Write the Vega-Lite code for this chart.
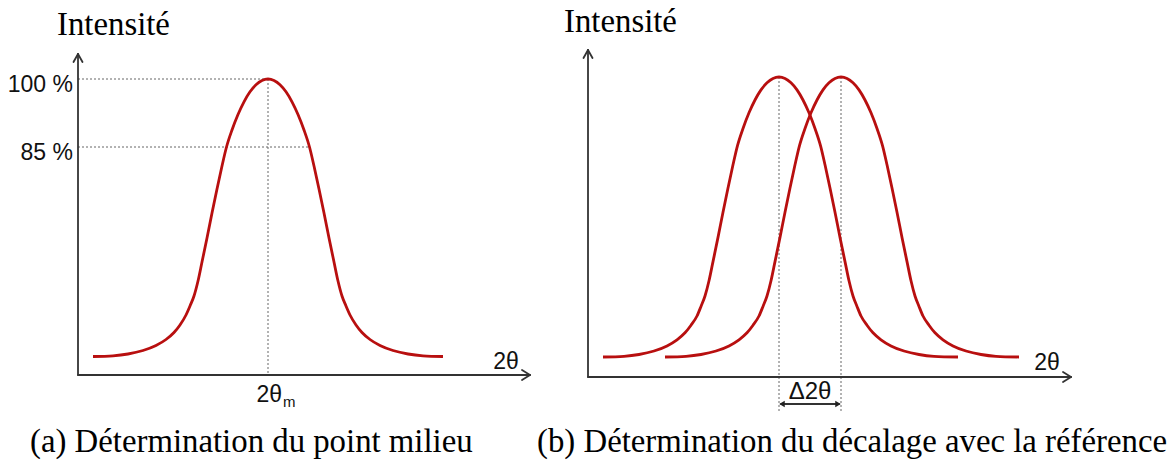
{
  "$schema": "https://vega.github.io/schema/vega-lite/v6.json",
  "width": 1168,
  "height": 466,
  "autosize": {"type": "fit", "contains": "padding"},
  "padding": 0,
  "background": "white",
  "config": {"view": {"stroke": null}},
  "datasets": {
    "curves": [
      {"series": "a", "x": 93, "y": 356.5}, {"series": "a", "x": 113, "y": 355.8}, {"series": "a", "x": 128, "y": 354}, {"series": "a", "x": 143, "y": 350.5}, {"series": "a", "x": 156, "y": 345.5}, {"series": "a", "x": 166, "y": 339.5}, {"series": "a", "x": 174, "y": 332.5}, {"series": "a", "x": 180, "y": 325}, {"series": "a", "x": 186, "y": 315}, {"series": "a", "x": 190, "y": 306}, {"series": "a", "x": 194, "y": 296}, {"series": "a", "x": 198, "y": 281}, {"series": "a", "x": 202, "y": 262}, {"series": "a", "x": 207, "y": 238}, {"series": "a", "x": 212, "y": 213}, {"series": "a", "x": 217, "y": 189}, {"series": "a", "x": 222, "y": 166}, {"series": "a", "x": 226.5, "y": 147}, {"series": "a", "x": 232, "y": 130}, {"series": "a", "x": 238, "y": 114.5}, {"series": "a", "x": 244, "y": 101.8}, {"series": "a", "x": 250, "y": 91.8}, {"series": "a", "x": 256, "y": 84.7}, {"series": "a", "x": 262, "y": 80.4}, {"series": "a", "x": 268, "y": 79},
      {"series": "a", "x": 274, "y": 80.4}, {"series": "a", "x": 280, "y": 84.7}, {"series": "a", "x": 286, "y": 91.8}, {"series": "a", "x": 292, "y": 101.8}, {"series": "a", "x": 298, "y": 114.5}, {"series": "a", "x": 304, "y": 130}, {"series": "a", "x": 309.5, "y": 147}, {"series": "a", "x": 314, "y": 166}, {"series": "a", "x": 319, "y": 189}, {"series": "a", "x": 324, "y": 213}, {"series": "a", "x": 329, "y": 238}, {"series": "a", "x": 334, "y": 262}, {"series": "a", "x": 338, "y": 281}, {"series": "a", "x": 342, "y": 296}, {"series": "a", "x": 346, "y": 306}, {"series": "a", "x": 350, "y": 315}, {"series": "a", "x": 356, "y": 325}, {"series": "a", "x": 362, "y": 332.5}, {"series": "a", "x": 370, "y": 339.5}, {"series": "a", "x": 380, "y": 345.5}, {"series": "a", "x": 393, "y": 350.5}, {"series": "a", "x": 408, "y": 354}, {"series": "a", "x": 423, "y": 355.8}, {"series": "a", "x": 443, "y": 356.5},

      {"series": "b1", "x": 603, "y": 357}, {"series": "b1", "x": 624, "y": 356.3}, {"series": "b1", "x": 639, "y": 354.5}, {"series": "b1", "x": 654, "y": 351}, {"series": "b1", "x": 667, "y": 345.9}, {"series": "b1", "x": 677, "y": 339.8}, {"series": "b1", "x": 685, "y": 332.8}, {"series": "b1", "x": 691, "y": 325.2}, {"series": "b1", "x": 697, "y": 316}, {"series": "b1", "x": 701, "y": 306.4}, {"series": "b1", "x": 705, "y": 296}, {"series": "b1", "x": 709, "y": 280.8}, {"series": "b1", "x": 713, "y": 261.6}, {"series": "b1", "x": 718, "y": 237.4}, {"series": "b1", "x": 723, "y": 212.2}, {"series": "b1", "x": 728, "y": 188}, {"series": "b1", "x": 733, "y": 164.8}, {"series": "b1", "x": 737.5, "y": 145.6}, {"series": "b1", "x": 743, "y": 128.5}, {"series": "b1", "x": 749, "y": 112.8}, {"series": "b1", "x": 755, "y": 100}, {"series": "b1", "x": 761, "y": 89.9}, {"series": "b1", "x": 767, "y": 82.8}, {"series": "b1", "x": 773, "y": 78.4}, {"series": "b1", "x": 779, "y": 77},
      {"series": "b1", "x": 785, "y": 78.4}, {"series": "b1", "x": 791, "y": 82.8}, {"series": "b1", "x": 797, "y": 89.9}, {"series": "b1", "x": 803, "y": 100}, {"series": "b1", "x": 809, "y": 112.8}, {"series": "b1", "x": 815, "y": 128.5}, {"series": "b1", "x": 820.5, "y": 145.6}, {"series": "b1", "x": 825, "y": 164.8}, {"series": "b1", "x": 830, "y": 188}, {"series": "b1", "x": 835, "y": 212.2}, {"series": "b1", "x": 840, "y": 237.4}, {"series": "b1", "x": 845, "y": 261.6}, {"series": "b1", "x": 849, "y": 280.8}, {"series": "b1", "x": 853, "y": 296}, {"series": "b1", "x": 857, "y": 306.4}, {"series": "b1", "x": 861, "y": 316}, {"series": "b1", "x": 867, "y": 325.2}, {"series": "b1", "x": 873, "y": 332.8}, {"series": "b1", "x": 881, "y": 339.8}, {"series": "b1", "x": 891, "y": 345.9}, {"series": "b1", "x": 904, "y": 351}, {"series": "b1", "x": 919, "y": 354.5}, {"series": "b1", "x": 934, "y": 356.3}, {"series": "b1", "x": 958, "y": 357},

      {"series": "b2", "x": 665, "y": 357}, {"series": "b2", "x": 686, "y": 356.3}, {"series": "b2", "x": 701, "y": 354.5}, {"series": "b2", "x": 716, "y": 351}, {"series": "b2", "x": 729, "y": 345.9}, {"series": "b2", "x": 739, "y": 339.8}, {"series": "b2", "x": 747, "y": 332.8}, {"series": "b2", "x": 753, "y": 325.2}, {"series": "b2", "x": 759, "y": 316}, {"series": "b2", "x": 763, "y": 306.4}, {"series": "b2", "x": 767, "y": 296}, {"series": "b2", "x": 771, "y": 280.8}, {"series": "b2", "x": 775, "y": 261.6}, {"series": "b2", "x": 780, "y": 237.4}, {"series": "b2", "x": 785, "y": 212.2}, {"series": "b2", "x": 790, "y": 188}, {"series": "b2", "x": 795, "y": 164.8}, {"series": "b2", "x": 799.5, "y": 145.6}, {"series": "b2", "x": 805, "y": 128.5}, {"series": "b2", "x": 811, "y": 112.8}, {"series": "b2", "x": 817, "y": 100}, {"series": "b2", "x": 823, "y": 89.9}, {"series": "b2", "x": 829, "y": 82.8}, {"series": "b2", "x": 835, "y": 78.4}, {"series": "b2", "x": 841, "y": 77},
      {"series": "b2", "x": 847, "y": 78.4}, {"series": "b2", "x": 853, "y": 82.8}, {"series": "b2", "x": 859, "y": 89.9}, {"series": "b2", "x": 865, "y": 100}, {"series": "b2", "x": 871, "y": 112.8}, {"series": "b2", "x": 877, "y": 128.5}, {"series": "b2", "x": 882.5, "y": 145.6}, {"series": "b2", "x": 887, "y": 164.8}, {"series": "b2", "x": 892, "y": 188}, {"series": "b2", "x": 897, "y": 212.2}, {"series": "b2", "x": 902, "y": 237.4}, {"series": "b2", "x": 907, "y": 261.6}, {"series": "b2", "x": 911, "y": 280.8}, {"series": "b2", "x": 915, "y": 296}, {"series": "b2", "x": 919, "y": 306.4}, {"series": "b2", "x": 923, "y": 316}, {"series": "b2", "x": 929, "y": 325.2}, {"series": "b2", "x": 935, "y": 332.8}, {"series": "b2", "x": 943, "y": 339.8}, {"series": "b2", "x": 953, "y": 345.9}, {"series": "b2", "x": 966, "y": 351}, {"series": "b2", "x": 981, "y": 354.5}, {"series": "b2", "x": 996, "y": 356.3}, {"series": "b2", "x": 1019, "y": 357}
    ],
    "axes": [
      {"x": 78, "y": 54, "x2": 78, "y2": 375},
      {"x": 78, "y": 375, "x2": 530, "y2": 375},
      {"x": 78, "y": 54, "x2": 73.5, "y2": 62},
      {"x": 78, "y": 54, "x2": 82.5, "y2": 62},
      {"x": 530, "y": 375, "x2": 522, "y2": 370},
      {"x": 530, "y": 375, "x2": 522, "y2": 380},
      {"x": 588, "y": 50, "x2": 588, "y2": 377},
      {"x": 588, "y": 377, "x2": 1071, "y2": 377},
      {"x": 588, "y": 50, "x2": 583.5, "y2": 58},
      {"x": 588, "y": 50, "x2": 592.5, "y2": 58},
      {"x": 1071, "y": 377, "x2": 1063, "y2": 372},
      {"x": 1071, "y": 377, "x2": 1063, "y2": 382},
      {"x": 781, "y": 404, "x2": 839, "y2": 404}
    ],
    "guides": [
      {"x": 78, "y": 79, "x2": 268, "y2": 79},
      {"x": 78, "y": 147, "x2": 310, "y2": 147},
      {"x": 268, "y": 79, "x2": 268, "y2": 375},
      {"x": 779, "y": 77, "x2": 779, "y2": 412},
      {"x": 841, "y": 77, "x2": 841, "y2": 412}
    ],
    "heads": [
      {"x": 782, "y": 404, "dir": "left"},
      {"x": 838, "y": 404, "dir": "right"}
    ],
    "serif": [
      {"text": "Intensité", "x": 57, "y": 35},
      {"text": "Intensité", "x": 564, "y": 32},
      {"text": "(a) Détermination du point milieu", "x": 30, "y": 452},
      {"text": "(b) Détermination du décalage avec la référence", "x": 537, "y": 452}
    ],
    "sansRight": [
      {"text": "100 %", "x": 73, "y": 92},
      {"text": "85 %", "x": 73, "y": 160},
      {"text": "2θ", "x": 282, "y": 402}
    ],
    "sansCenter": [
      {"text": "2θ", "x": 506, "y": 369},
      {"text": "2θ", "x": 1047, "y": 370}
    ],
    "delta": [
      {"text": "Δ2θ", "x": 810, "y": 399}
    ],
    "subs": [
      {"text": "m", "x": 283, "y": 407}
    ]
  },
  "layer": [
    {
      "data": {"name": "guides"},
      "mark": {"type": "rule", "color": "#666666", "strokeWidth": 1, "strokeDash": [2, 2]},
      "encoding": {
        "x": {"field": "x", "type": "quantitative", "scale": {"domain": [0, 1168]}, "axis": null},
        "y": {"field": "y", "type": "quantitative", "scale": {"domain": [0, 466], "reverse": true}, "axis": null},
        "x2": {"field": "x2"},
        "y2": {"field": "y2"}
      }
    },
    {
      "data": {"name": "axes"},
      "mark": {"type": "rule", "color": "#333333", "strokeWidth": 1.8, "strokeCap": "round"},
      "encoding": {
        "x": {"field": "x", "type": "quantitative", "scale": {"domain": [0, 1168]}, "axis": null},
        "y": {"field": "y", "type": "quantitative", "scale": {"domain": [0, 466], "reverse": true}, "axis": null},
        "x2": {"field": "x2"},
        "y2": {"field": "y2"}
      }
    },
    {
      "data": {"name": "heads"},
      "mark": {"type": "point", "filled": true, "color": "#222222", "size": 40, "opacity": 1},
      "encoding": {
        "x": {"field": "x", "type": "quantitative", "scale": {"domain": [0, 1168]}, "axis": null},
        "y": {"field": "y", "type": "quantitative", "scale": {"domain": [0, 466], "reverse": true}, "axis": null},
        "shape": {"field": "dir", "type": "nominal", "scale": {"domain": ["left", "right"], "range": ["triangle-left", "triangle-right"]}, "legend": null}
      }
    },
    {
      "data": {"name": "curves"},
      "mark": {"type": "line", "color": "#B80F0F", "strokeWidth": 2.8, "interpolate": "monotone"},
      "encoding": {
        "x": {"field": "x", "type": "quantitative", "scale": {"domain": [0, 1168]}, "axis": null},
        "y": {"field": "y", "type": "quantitative", "scale": {"domain": [0, 466], "reverse": true}, "axis": null},
        "detail": {"field": "series", "type": "nominal"}
      }
    },
    {
      "data": {"name": "serif"},
      "mark": {"type": "text", "font": "Liberation Serif", "fontSize": 32.8, "align": "left", "baseline": "alphabetic", "color": "#000000"},
      "encoding": {
        "x": {"field": "x", "type": "quantitative", "scale": {"domain": [0, 1168]}, "axis": null},
        "y": {"field": "y", "type": "quantitative", "scale": {"domain": [0, 466], "reverse": true}, "axis": null},
        "text": {"field": "text"}
      }
    },
    {
      "data": {"name": "sansRight"},
      "mark": {"type": "text", "font": "Liberation Sans", "fontSize": 23, "align": "right", "baseline": "alphabetic", "color": "#111111"},
      "encoding": {
        "x": {"field": "x", "type": "quantitative", "scale": {"domain": [0, 1168]}, "axis": null},
        "y": {"field": "y", "type": "quantitative", "scale": {"domain": [0, 466], "reverse": true}, "axis": null},
        "text": {"field": "text"}
      }
    },
    {
      "data": {"name": "sansCenter"},
      "mark": {"type": "text", "font": "Liberation Sans", "fontSize": 23, "align": "center", "baseline": "alphabetic", "color": "#111111"},
      "encoding": {
        "x": {"field": "x", "type": "quantitative", "scale": {"domain": [0, 1168]}, "axis": null},
        "y": {"field": "y", "type": "quantitative", "scale": {"domain": [0, 466], "reverse": true}, "axis": null},
        "text": {"field": "text"}
      }
    },
    {
      "data": {"name": "delta"},
      "mark": {"type": "text", "font": "Liberation Sans", "fontSize": 24, "align": "center", "baseline": "alphabetic", "color": "#111111"},
      "encoding": {
        "x": {"field": "x", "type": "quantitative", "scale": {"domain": [0, 1168]}, "axis": null},
        "y": {"field": "y", "type": "quantitative", "scale": {"domain": [0, 466], "reverse": true}, "axis": null},
        "text": {"field": "text"}
      }
    },
    {
      "data": {"name": "subs"},
      "mark": {"type": "text", "font": "Liberation Sans", "fontSize": 15, "align": "left", "baseline": "alphabetic", "color": "#111111"},
      "encoding": {
        "x": {"field": "x", "type": "quantitative", "scale": {"domain": [0, 1168]}, "axis": null},
        "y": {"field": "y", "type": "quantitative", "scale": {"domain": [0, 466], "reverse": true}, "axis": null},
        "text": {"field": "text"}
      }
    }
  ]
}
